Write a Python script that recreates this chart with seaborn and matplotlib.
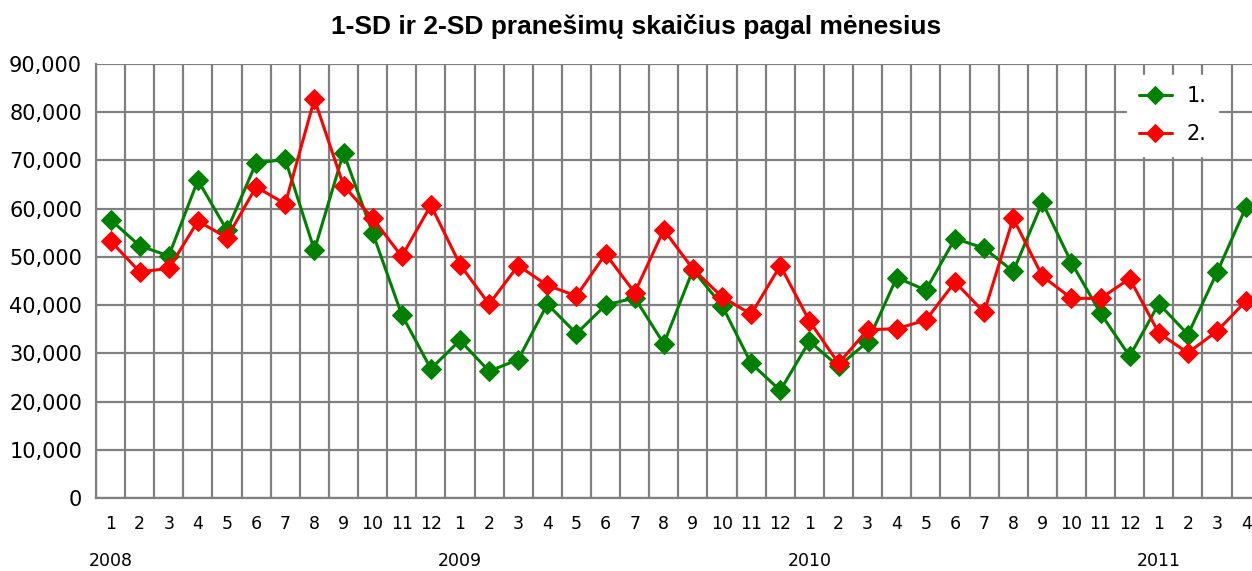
import matplotlib
matplotlib.use("Agg")
import matplotlib.pyplot as plt
import matplotlib.transforms as mtransforms
from matplotlib.ticker import FixedLocator, FuncFormatter
import seaborn as sns
import pandas as pd

# months from 2008-01 to 2011-04
months = [1, 2, 3, 4, 5, 6, 7, 8, 9, 10, 11, 12,
          1, 2, 3, 4, 5, 6, 7, 8, 9, 10, 11, 12,
          1, 2, 3, 4, 5, 6, 7, 8, 9, 10, 11, 12,
          1, 2, 3, 4]
years = ["2008", "2009", "2010", "2011"]

series_1 = [57700, 52300, 50200, 65900, 55500, 69500, 70200, 51400, 71600, 55000, 38000, 26800,
            32700, 26300, 28700, 40200, 34100, 40000, 41500, 32000, 47300, 39900, 27900, 22300,
            32500, 27300, 32400, 45700, 43100, 53800, 51800, 47000, 61300, 48800, 38300, 29400,
            40300, 33900, 46800, 60400]
series_2 = [53300, 46900, 47600, 57400, 54000, 64500, 61000, 82700, 64800, 58000, 50100, 60700,
            48400, 40200, 48200, 44100, 41900, 50600, 42600, 55600, 47500, 41700, 38100, 48200,
            36700, 27900, 34900, 35100, 36900, 44800, 38500, 58000, 46000, 41400, 41400, 45500,
            34200, 30100, 34600, 40900]

df = pd.DataFrame({"idx": range(len(months)), "s1": series_1, "s2": series_2})

sns.set_style("white")
plt.rcParams["font.family"] = ["DejaVu Sans"]
plt.rcParams["text.color"] = "black"
plt.rcParams["xtick.color"] = "black"
plt.rcParams["ytick.color"] = "black"

fig = plt.figure(figsize=(12.52, 5.71), dpi=100)
ax = fig.add_axes([96 / 1252, 73 / 571, 1 - 96 / 1252, 434 / 571])

grid_color = "#808080"
sns.lineplot(data=df, x="idx", y="s1", ax=ax, color="#008000", marker="D", markersize=10.5,
             markeredgecolor="#008000", linewidth=2.2, label="1.", zorder=3)
sns.lineplot(data=df, x="idx", y="s2", ax=ax, color="#ff0000", marker="D", markersize=10.5,
             markeredgecolor="#ff0000", linewidth=2.2, label="2.", zorder=4)

ax.set_xlim(-0.5, len(months) - 0.8)
ax.set_ylim(0, 90000)
ax.set_yticks(range(0, 90001, 10000))
ax.yaxis.set_major_formatter(FuncFormatter(lambda v, p: f"{int(v):,}"))
ax.set_xticks(range(len(months)))
ax.set_xticklabels([str(m) for m in months])
ax.xaxis.set_minor_locator(FixedLocator([i - 0.5 for i in range(len(months) + 1)]))
ax.tick_params(axis="both", which="both", length=0)
ax.tick_params(axis="y", labelsize=15, pad=10)
ax.tick_params(axis="x", labelsize=12.5, pad=12)
ax.grid(axis="y", which="major", color=grid_color, linewidth=1.6)
ax.grid(axis="x", which="minor", color=grid_color, linewidth=1.6)
ax.set_axisbelow(True)
for side in ["top", "right"]:
    ax.spines[side].set_visible(False)
for side in ["left", "bottom"]:
    ax.spines[side].set_color(grid_color)
    ax.spines[side].set_linewidth(1.6)
ax.set_xlabel("")
ax.set_ylabel("")

trans = mtransforms.blended_transform_factory(ax.transData, ax.transAxes)
for i, y in enumerate(years):
    ax.text(i * 12, -0.145, y, transform=trans, ha="center", va="center", fontsize=12.5)

leg = ax.legend(loc="upper right", bbox_to_anchor=(0.9706, 0.9747), fontsize=15,
                frameon=True, fancybox=False, borderpad=0.55, handlelength=1.6,
                handletextpad=0.7, labelspacing=0.85, borderaxespad=0, markerscale=0.85)
leg.get_frame().set_edgecolor("white")
leg.get_frame().set_alpha(1)

fig.text(0.508, 0.953, "1-SD ir 2-SD pranešimų skaičius pagal mėnesius", ha="center",
         va="center", fontsize=19, fontweight="bold", family=["Liberation Sans", "DejaVu Sans"])

fig.savefig("out.png", dpi=100)
